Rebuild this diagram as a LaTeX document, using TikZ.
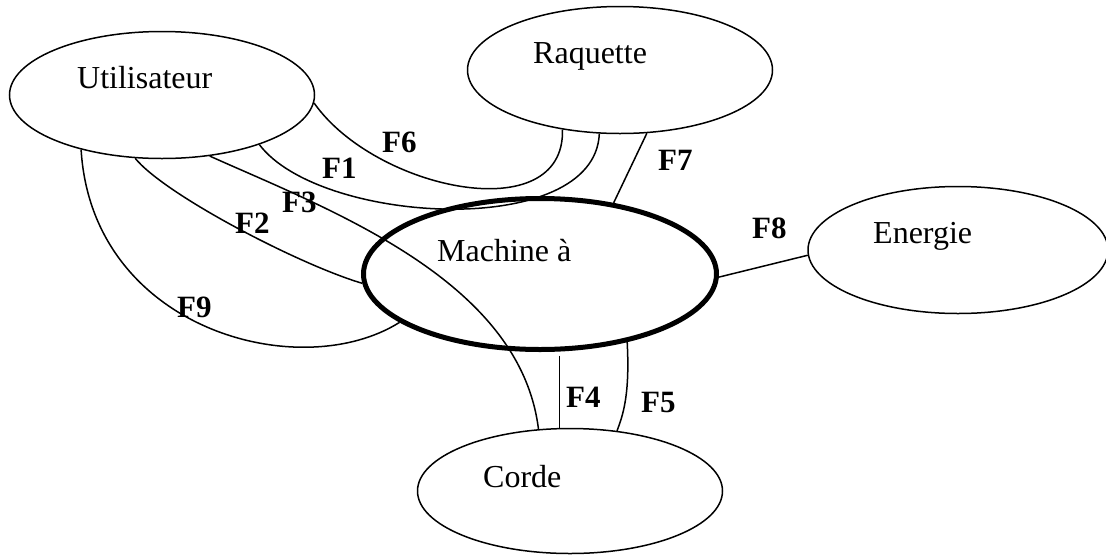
\documentclass[tikz,border=0pt]{standalone}
\usepackage{fontspec}
\setmainfont{Liberation Serif}
\usepackage{tikz}
\usetikzlibrary{shapes.geometric}

\tikzset{
  bloc/.style={ellipse, draw, line width=1.5pt, inner sep=0pt, minimum width=305pt, minimum height=127pt},
  centre/.style={bloc, line width=5pt, minimum width=353pt, minimum height=151pt},
  nom/.style={anchor=base west, inner sep=0pt, font=\fontsize{32}{38}\selectfont},
  fct/.style={anchor=base west, inner sep=0pt, font=\bfseries\fontsize{31}{37}\selectfont},
  liaison/.style={line width=1.5pt}
}

\begin{document}
\begin{tikzpicture}[x=1pt, y=-1pt]
\useasboundingbox (0,0) rectangle (1106,555);

\node[bloc] (util) at (162,95) {};
\node[bloc] (raq) at (620,70) {};
\node[bloc, minimum width=300pt] (energ) at (958,250) {};
\node[bloc, minimum height=125pt] (corde) at (570,491) {};
\node[centre] (mach) at (540,274) {};

\node[nom] (tutil) at (77,88) {Utilisateur};
\node[nom] (traq) at (533,63) {Raquette};
\node[nom] (tenerg) at (873,243) {Energie};
\node[nom] (tmach) at (437,261) {Machine à};
\node[nom] (tcorde) at (483,487) {Corde};

\draw[liaison] (util.-3) .. controls (375,190) and (565,230) .. (raq.-134);
\draw[liaison] (util.-27) .. controls (320,225) and (595,240) .. (raq.-108);
\draw[liaison] (util.-52) .. controls (330,210) and (520,280) .. (corde.117);
\draw[liaison] (util.-113) .. controls (165,195) and (300,265) .. (mach.-177.5);
\draw[liaison] (util.-146) .. controls (92,330) and (300,385) .. (mach.-161);
\draw[liaison] (raq.-67) -- (mach.44);
\draw[liaison] (mach.-1) -- (energ.-178);
\draw[liaison, shorten <=4pt] (mach.-76) -- (mach.-76 |- corde.north);
\draw[liaison] (mach.-38) .. controls (630,395) and (623,415) .. (corde.52);

\node[fct] (f6) at (382,152) {F6};
\node[fct] (f1) at (322,178) {F1};
\node[fct] (f3) at (282,212) {F3};
\node[fct] (f2) at (235,233) {F2};
\node[fct] (f9) at (177,317) {F9};
\node[fct] (f7) at (658,170) {F7};
\node[fct] (f8) at (752,238) {F8};
\node[fct] (f4) at (566,407) {F4};
\node[fct] (f5) at (641,412) {F5};
\end{tikzpicture}
\end{document}
